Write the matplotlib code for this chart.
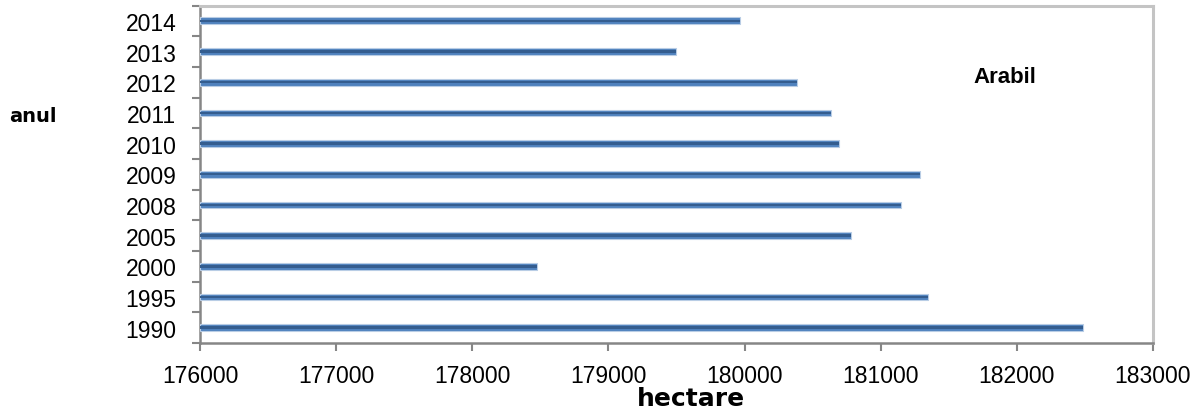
import matplotlib
matplotlib.use("Agg")
import matplotlib.pyplot as plt

years = ["1990", "1995", "2000", "2005", "2008", "2009", "2010", "2011", "2012", "2013", "2014"]
hectare = [182488, 181349, 178474, 180784, 181146, 181290, 180692, 180634, 180384, 179497, 179963]
xticks = [176000, 177000, 178000, 179000, 180000, 181000, 182000, 183000]

fig = plt.figure(figsize=(11.94, 4.14), dpi=100)
ax = fig.add_axes([200/1194, 1-344/414, (1153-200)/1194, (344-6.5)/414])

base = xticks[0]
pos = list(range(len(years)))
widths = [v - base for v in hectare]
ax.barh(pos, widths, left=base, height=0.22,
        color="#4f81bd", edgecolor="#b9cde5", linewidth=0.8, zorder=3)
ax.barh(pos, widths, left=base, height=0.08,
        color="#345d8f", linewidth=0, zorder=4)

ax.set_xlim(xticks[0], xticks[-1])
ax.set_ylim(-0.5, len(years) - 0.5)
ax.set_xticks(xticks)
ax.set_xticklabels([str(t) for t in xticks], fontfamily="Liberation Sans", fontsize=16.5)
ax.set_yticks(pos)
ax.set_yticklabels(years, fontfamily="Liberation Sans", fontsize=16.5)
ax.set_yticks([p - 0.5 for p in pos] + [len(years) - 0.5], minor=True)
ax.tick_params(axis="y", which="major", length=0, pad=17)
ax.tick_params(axis="y", which="minor", length=6, width=1.5, color="#868686")
ax.tick_params(axis="x", which="major", length=6, width=1.5, color="#868686", pad=9)

for s in ["left", "bottom"]:
    ax.spines[s].set_color("#868686")
    ax.spines[s].set_linewidth(1.8)
for s in ["top", "right"]:
    ax.spines[s].set_color("#c4c4c4")
    ax.spines[s].set_linewidth(2.2)

fig.text(691/1194, 1-399/414, "hectare", ha="center", va="center",
         fontfamily="DejaVu Sans", fontweight="bold", fontsize=18)
fig.text(33/1194, 1-116/414, "anul", ha="center", va="center",
         fontfamily="DejaVu Sans", fontweight="bold", fontsize=14)
fig.text(1005/1194, 1-78/414, "Arabil", ha="center", va="center",
         fontfamily="Liberation Sans", fontweight="bold", fontsize=16)

fig.savefig("out.png", dpi=100, facecolor="white")
